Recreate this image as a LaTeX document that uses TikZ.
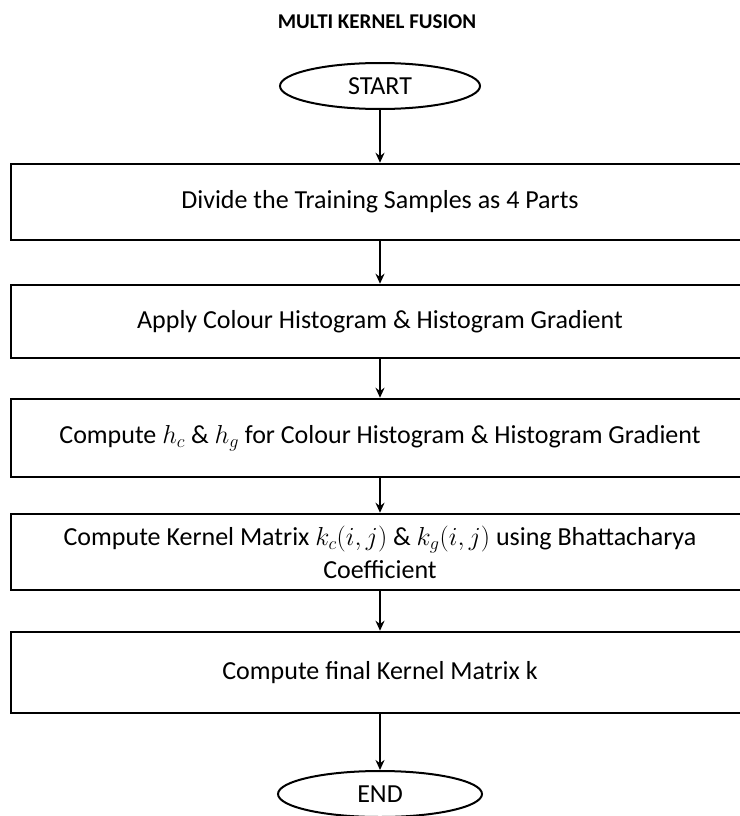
\RequirePackage{fix-cm}
\documentclass[tikz,border=0pt]{standalone}
\usepackage{fontspec}
\setmainfont{Carlito}
\usetikzlibrary{shapes.geometric,arrows.meta}

\begin{document}
\begin{tikzpicture}[x=1pt,y=-1pt,
                    >={Stealth[length=10pt,width=9pt]},
                    fnode/.style = {shape = rectangle,
                                    color = black,
                                    line width = 2.5pt,
                                    minimum width = 738pt,
                                    align = center,
                                    font=\fontsize{26}{33}\selectfont,
                                    draw},
                    tnode/.style = {shape = ellipse,
                                    color = black,
                                    line width = 2pt,
                                    minimum width = 200pt,
                                    minimum height = 46pt,
                                    inner sep=0pt,
                                    font=\fontsize{26}{33}\selectfont,
                                    draw},
                    flow/.style = {->, line width = 2pt}]
		\useasboundingbox (0,0) rectangle (739,816);
		\node[font=\fontsize{21}{25}\selectfont\bfseries] (title) at (377,22) {MULTI KERNEL FUSION};
		\node[tnode] (start) at (380,86) {START};
		\node[fnode, minimum height = 76pt] (1) at (380,202) {Divide the Training Samples as 4 Parts};
		\node[fnode, minimum height = 73pt] (2) at (380,321.5) {Apply Colour Histogram \& Histogram Gradient};
		\node[fnode, minimum height = 78pt] (3) at (380,438) {Compute $h_c$ \& $h_g$ for Colour Histogram \& Histogram Gradient};
		\node[fnode, minimum height = 76pt] (4) at (380,552) {Compute Kernel Matrix $k_c(i,j)$ \& $k_g(i,j)$ using Bhattacharya\\ Coefficient};
		\node[fnode, minimum height = 81pt] (5) at (380,672.5) {Compute final Kernel Matrix k};
		\node[tnode, minimum width = 204pt] (end) at (380,794) {END};
		\path[flow] (start) edge (1);
		\path[flow] (1) edge (2);
		\path[flow] (2) edge (3);
		\path[flow] (3) edge (4);
		\path[flow] (4) edge (5);
		\path[flow] (5) edge (end);
	\end{tikzpicture}
\end{document}
